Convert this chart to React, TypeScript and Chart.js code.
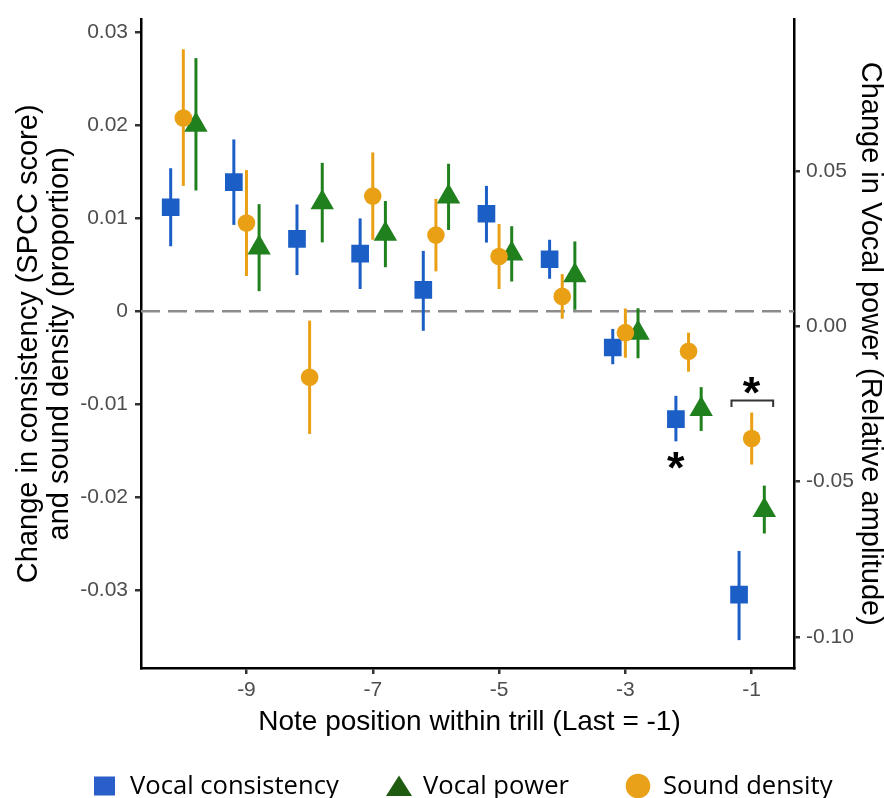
import React, { useEffect, useRef } from "react";
import { Chart, registerables } from "chart.js";

Chart.register(...registerables);

// ---------------- data ----------------
const positions = [-10, -9, -8, -7, -6, -5, -4, -3, -2, -1];

const consistencyMean = [0.0112, 0.0139, 0.0078, 0.0062, 0.0023, 0.0105, 0.0056, -0.0039, -0.0116, -0.0305];
const consistencyLow = [0.007, 0.0093, 0.0039, 0.0024, -0.0021, 0.0074, 0.0035, -0.0057, -0.014, -0.0354];
const consistencyHigh = [0.0154, 0.0185, 0.0115, 0.01, 0.0065, 0.0135, 0.0077, -0.0019, -0.0091, -0.0258];

const densityMean = [0.0208, 0.0095, -0.0071, 0.0124, 0.0082, 0.0059, 0.0016, -0.0023, -0.0043, -0.0137];
const densityLow = [0.0135, 0.0038, -0.0132, 0.0077, 0.0043, 0.0024, -0.0008, -0.005, -0.0065, -0.0165];
const densityHigh = [0.0282, 0.0152, -0.001, 0.0171, 0.0121, 0.0094, 0.004, 0.0003, -0.0023, -0.0109];

const powerMean = [0.0648, 0.0253, 0.0398, 0.0297, 0.0417, 0.0233, 0.0163, -0.0022, -0.0267, -0.0592];
const powerLow = [0.0437, 0.0113, 0.027, 0.019, 0.031, 0.0144, 0.0053, -0.0103, -0.0337, -0.0667];
const powerHigh = [0.0863, 0.0393, 0.0526, 0.0403, 0.0523, 0.0322, 0.0273, 0.0058, -0.0196, -0.0513];

const seriesLabels = ["Vocal consistency", "Vocal power", "Sound density"];
const dodge = [-0.2, 0.2, 0];

const xTickValues = [-9, -7, -5, -3, -1];
const xTickLabels = ["-9", "-7", "-5", "-3", "-1"];
const leftTickValues = [-0.03, -0.02, -0.01, 0, 0.01, 0.02, 0.03];
const leftTickLabels = ["-0.03", "-0.02", "-0.01", "0", "0.01", "0.02", "0.03"];
const rightTickValues = [-0.1, -0.05, 0, 0.05];
const rightTickLabels = ["-0.10", "-0.05", "0.00", "0.05"];

const xRange = [-10.67, -0.33];
const leftRange = [-0.0384, 0.0314];
const rightRange = [-0.11, 0.0987];

const xTitle = "Note position within trill (Last = -1)";
const leftTitle = ["Change in consistency (SPCC score)", "and sound density (proportion)"];
const rightTitle = "Change in Vocal power (Relative amplitude)";

// significance annotations (data units)
const starMarks = [
  { x: -2.2, y: -0.0161 },
  { x: -1.0, y: -0.008 },
];
const bracket = { x0: -1.32, x1: -0.66, y: -0.0096, yLeg: -0.0103 };

// ---------------- style / layout ----------------
const BLUE = "#1b5ec6";
const GREEN = "#20801e";
const ORANGE = "#e9a014";
const LEGEND_COLORS = ["#2a5fcb", "#1f5c10", "#eaa11a"];
const LEGEND_MARKER_LEFT = [94, 386, 626];
const LEGEND_TEXT_LEFT = [130, 423, 663];
const ARIAL = '"Liberation Sans", Arial, Helvetica, sans-serif';
const LEGEND_FONT = '"Open Sans", "Noto Sans", sans-serif';

const pickLabel = (values: number[], labels: string[]) => (v: any) => {
  const i = values.findIndex((t) => Math.abs(t - Number(v)) < 1e-9);
  return i >= 0 ? labels[i] : "";
};

const errorBarPlugin = {
  id: "errorBars",
  beforeDatasetsDraw(chart: any) {
    const ctx = chart.ctx;
    const xs = chart.scales.x;
    const ca = chart.chartArea;
    const y0 = chart.scales.y.getPixelForValue(0);
    ctx.save();
    ctx.strokeStyle = "#8c8c8c";
    ctx.lineWidth = 2.5;
    ctx.setLineDash([19, 8]);
    ctx.beginPath();
    ctx.moveTo(ca.left, y0);
    ctx.lineTo(ca.right, y0);
    ctx.stroke();
    ctx.restore();

    chart.data.datasets.forEach((ds: any) => {
      const ys = chart.scales[ds.yAxisID];
      ctx.save();
      ctx.strokeStyle = ds.backgroundColor;
      ctx.lineWidth = 3;
      ds.data.forEach((pt: any, i: number) => {
        const x = xs.getPixelForValue(pt.x);
        ctx.beginPath();
        ctx.moveTo(x, ys.getPixelForValue(ds.errLow[i]));
        ctx.lineTo(x, ys.getPixelForValue(ds.errHigh[i]));
        ctx.stroke();
      });
      ctx.restore();
    });
  },
};

const drawStar = (ctx: CanvasRenderingContext2D, cx: number, cy: number) => {
  ctx.save();
  ctx.font = `bold 40px ${ARIAL}`;
  const m0 = ctx.measureText("*");
  const w0 = m0.actualBoundingBoxLeft + m0.actualBoundingBoxRight || 14;
  const size = (40 * 18) / w0;
  ctx.font = `bold ${size}px ${ARIAL}`;
  const m = ctx.measureText("*");
  ctx.fillStyle = "#000";
  ctx.textAlign = "left";
  ctx.textBaseline = "alphabetic";
  const bw = m.actualBoundingBoxLeft + m.actualBoundingBoxRight;
  const x = cx - bw / 2 + m.actualBoundingBoxLeft;
  const y = cy + (m.actualBoundingBoxAscent - m.actualBoundingBoxDescent) / 2;
  ctx.fillText("*", x, y);
  ctx.restore();
};

const annotationPlugin = {
  id: "annotations",
  afterDatasetsDraw(chart: any) {
    const ctx = chart.ctx;
    const xs = chart.scales.x;
    const ys = chart.scales.y;
    starMarks.forEach((s) => drawStar(ctx, xs.getPixelForValue(s.x), ys.getPixelForValue(s.y)));
    const bx0 = xs.getPixelForValue(bracket.x0);
    const bx1 = xs.getPixelForValue(bracket.x1);
    const by = ys.getPixelForValue(bracket.y);
    const byl = ys.getPixelForValue(bracket.yLeg);
    ctx.save();
    ctx.strokeStyle = "#333";
    ctx.lineWidth = 2;
    ctx.beginPath();
    ctx.moveTo(bx0, byl);
    ctx.lineTo(bx0, by);
    ctx.lineTo(bx1, by);
    ctx.lineTo(bx1, byl);
    ctx.stroke();
    ctx.restore();
  },
};

const titlesLegendPlugin = {
  id: "titlesLegend",
  afterDraw(chart: any) {
    const ctx = chart.ctx;
    const ca = chart.chartArea;
    const cy = (ca.top + ca.bottom) / 2;
    const cx = (ca.left + ca.right) / 2;
    ctx.save();
    ctx.fillStyle = "#000";
    ctx.textAlign = "center";
    ctx.textBaseline = "alphabetic";
    ctx.font = `28px ${ARIAL}`;
    ctx.fillText(xTitle, cx + 2, 730);
    ctx.font = `29px ${ARIAL}`;
    const baselines = [37, 68];
    leftTitle.forEach((line, i) => {
      ctx.save();
      ctx.translate(baselines[i], cy);
      ctx.rotate(-Math.PI / 2);
      ctx.fillText(line, 0, 0);
      ctx.restore();
    });
    ctx.save();
    ctx.translate(861.5, cy);
    ctx.rotate(Math.PI / 2);
    ctx.fillText(rightTitle, 0, 0);
    ctx.restore();

    // legend
    ctx.font = `25.6px ${LEGEND_FONT}`;
    ctx.textAlign = "left";
    const my = 786;
    seriesLabels.forEach((label, i) => {
      const mx = LEGEND_MARKER_LEFT[i] + 12;
      ctx.fillStyle = LEGEND_COLORS[i];
      ctx.beginPath();
      if (i === 0) {
        ctx.rect(LEGEND_MARKER_LEFT[i], my - 9.5, 21, 19);
      } else if (i === 1) {
        ctx.moveTo(mx + 1, my - 10.5);
        ctx.lineTo(mx + 14, my + 10);
        ctx.lineTo(mx - 12, my + 10);
        ctx.closePath();
      } else {
        ctx.arc(mx, my, 12.3, 0, Math.PI * 2);
      }
      ctx.fill();
      ctx.fillStyle = "#000";
      ctx.fillText(label, LEGEND_TEXT_LEFT[i], 793.5);
    });
    ctx.restore();
  },
};

export default function App() {
  const canvasRef = useRef<HTMLCanvasElement | null>(null);

  useEffect(() => {
    const canvas = canvasRef.current;
    if (!canvas) return;

    const mk = (means: number[], off: number) => positions.map((p, i) => ({ x: p + off, y: means[i] }));

    const datasets: any[] = [
      {
        label: seriesLabels[0],
        data: mk(consistencyMean, dodge[0]),
        errLow: consistencyLow,
        errHigh: consistencyHigh,
        yAxisID: "y",
        pointStyle: "rect",
        pointRadius: 12.5,
        backgroundColor: BLUE,
        borderColor: BLUE,
        pointBorderWidth: 0,
        order: 3,
      },
      {
        label: seriesLabels[1],
        data: mk(powerMean, dodge[1]),
        errLow: powerLow,
        errHigh: powerHigh,
        yAxisID: "y2",
        pointStyle: "triangle",
        pointRadius: 13.5,
        backgroundColor: GREEN,
        borderColor: GREEN,
        pointBorderWidth: 0,
        order: 2,
      },
      {
        label: seriesLabels[2],
        data: mk(densityMean, dodge[2]),
        errLow: densityLow,
        errHigh: densityHigh,
        yAxisID: "y",
        pointStyle: "circle",
        pointRadius: 8.8,
        backgroundColor: ORANGE,
        borderColor: ORANGE,
        pointBorderWidth: 0,
        order: 1,
      },
    ];

    const tickFont = { family: ARIAL, size: 21 };
    const gridCommon = {
      display: true,
      drawOnChartArea: false,
      drawTicks: true,
      tickLength: 6,
      color: "#333333",
      lineWidth: 2.5,
    };
    const border = { display: true, color: "#000", width: 2.5 };

    const chart = new Chart(canvas, {
      type: "scatter",
      data: { datasets },
      options: {
        animation: false,
        responsive: false,
        events: [],
        layout: { padding: { top: 11, left: 0, right: 0, bottom: 0 } },
        plugins: { legend: { display: false }, tooltip: { enabled: false }, title: { display: false } },
        scales: {
          x: {
            type: "linear",
            position: "bottom",
            min: xRange[0],
            max: xRange[1],
            grid: gridCommon,
            border,
            afterBuildTicks: (s: any) => {
              s.ticks = xTickValues.map((v) => ({ value: v }));
            },
            afterFit: (s: any) => {
              s.height = 130;
            },
            ticks: {
              font: tickFont,
              color: "#4d4d4d",
              padding: 4,
              maxRotation: 0,
              autoSkip: false,
              callback: pickLabel(xTickValues, xTickLabels),
            },
          },
          y: {
            type: "linear",
            position: "left",
            min: leftRange[0],
            max: leftRange[1],
            grid: gridCommon,
            border,
            afterBuildTicks: (s: any) => {
              s.ticks = leftTickValues.map((v) => ({ value: v }));
            },
            afterFit: (s: any) => {
              s.width = 141;
            },
            ticks: {
              font: tickFont,
              color: "#4d4d4d",
              padding: 7,
              autoSkip: false,
              callback: pickLabel(leftTickValues, leftTickLabels),
            },
          },
          y2: {
            type: "linear",
            position: "right",
            min: rightRange[0],
            max: rightRange[1],
            grid: gridCommon,
            border,
            afterBuildTicks: (s: any) => {
              s.ticks = rightTickValues.map((v) => ({ value: v }));
            },
            afterFit: (s: any) => {
              s.width = 90;
            },
            ticks: {
              font: tickFont,
              color: "#4d4d4d",
              padding: 6,
              autoSkip: false,
              callback: pickLabel(rightTickValues, rightTickLabels),
            },
          },
        },
      } as any,
      plugins: [errorBarPlugin, annotationPlugin, titlesLegendPlugin],
    });

    return () => chart.destroy();
  }, []);

  return (
    <div style={{ position: "fixed", left: 0, top: 0, width: 884, height: 798, background: "#fff" }}>
      <canvas ref={canvasRef} width={884} height={798} style={{ width: 884, height: 798, display: "block" }} />
    </div>
  );
}
